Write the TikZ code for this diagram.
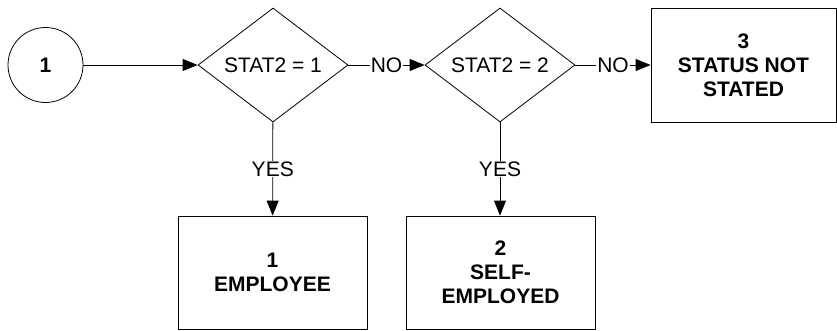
\documentclass[tikz,border=0pt]{standalone}
\usepackage{fontspec}
\setmainfont{Liberation Sans}
\usetikzlibrary{shapes.geometric,arrows.meta}

\begin{document}
\begin{tikzpicture}[
    x=1pt, y=-1pt,
    >={Triangle[length=15pt, width=12pt]},
    line width=0.8pt,
    every node/.style={font=\fontsize{21}{24}\selectfont},
    decision/.style={draw, shape=diamond, inner sep=0pt,
        minimum width=150pt, minimum height=114pt},
    outcome/.style={draw, rectangle, align=center, inner sep=0pt,
        font=\fontsize{21}{24}\selectfont\bfseries},
    branch/.style={fill=white, inner sep=1pt}
]

\useasboundingbox (0,0) rectangle (837,330);

% Inici
\node[draw, circle, minimum size=75pt, inner sep=0pt,
    font=\fontsize{21}{24}\selectfont\bfseries] (start) at (45.5,65) {1};

% Decisions
\node[decision] (stat1) at (273,65) {STAT2 = 1};
\node[decision] (stat2) at (500,65) {STAT2 = 2};

% Resultats
\node[outcome, minimum width=185pt, minimum height=114pt]
    (notstated) at (743.5,65) {3\\STATUS NOT\\STATED};
\node[outcome, minimum width=189pt, minimum height=113pt]
    (employee) at (272.5,272.5) {1\\EMPLOYEE};
\node[outcome, minimum width=189pt, minimum height=113pt]
    (selfemp) at (500.5,272.5) {2\\SELF-\\EMPLOYED};

% Fletxes
\draw[->] (start) -- (stat1);
\draw[->] (stat1) -- (stat2)
    node[midway, branch] {NO};
\draw[->] (stat2) -- (notstated)
    node[midway, branch] {NO};
\draw[->] (stat1) -- (employee)
    node[midway, branch] {YES};
\draw[->] (stat2.south) -- (stat2.south |- selfemp.north)
    node[midway, branch] {YES};

\end{tikzpicture}
\end{document}
